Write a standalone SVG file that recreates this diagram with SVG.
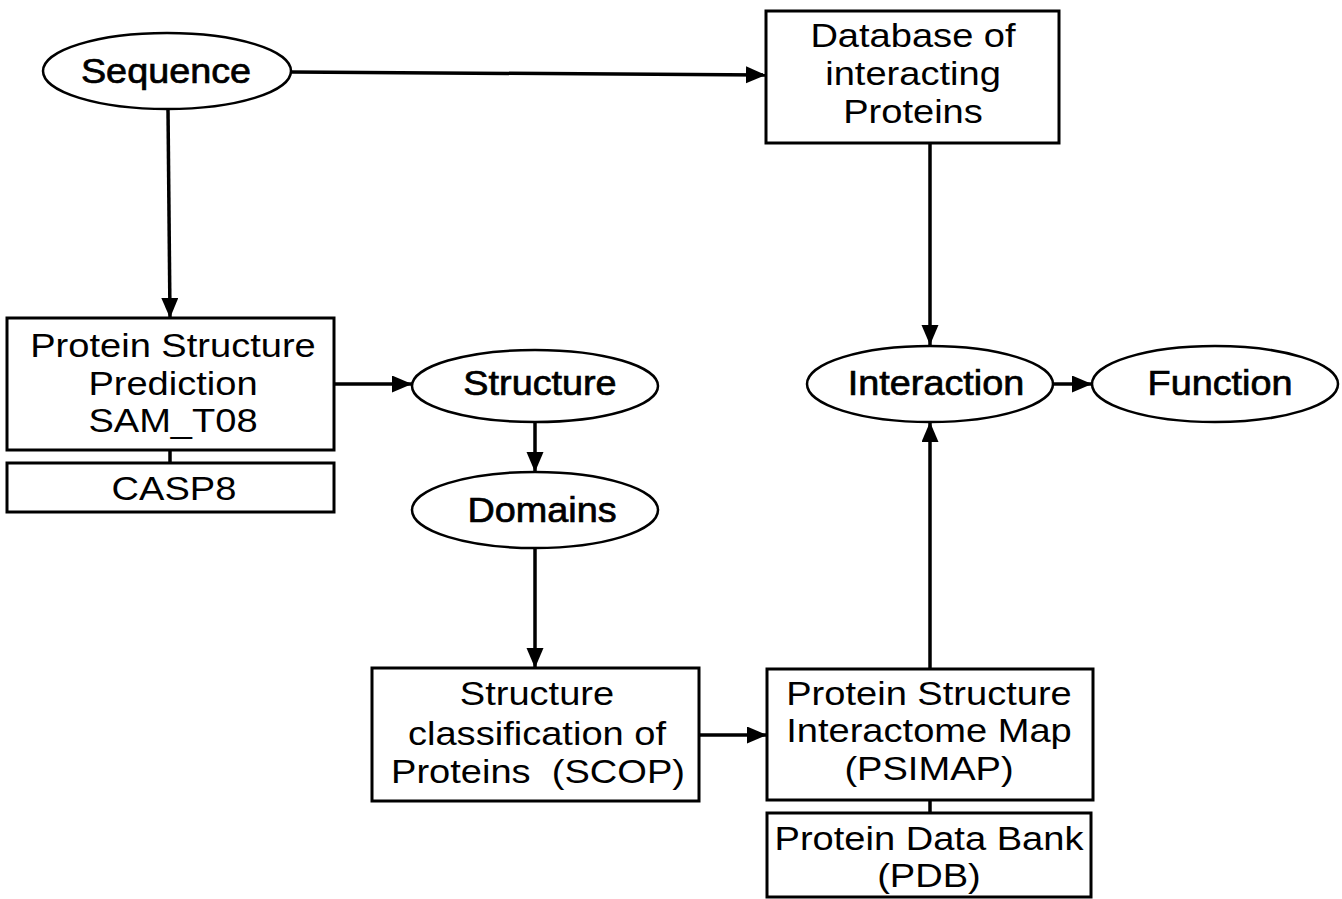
<svg xmlns="http://www.w3.org/2000/svg" width="1342" height="899" viewBox="0 0 1342 899">
<style>
.box{fill:#fff;stroke:#000;stroke-width:3}
.ell{fill:#fff;stroke:#000;stroke-width:2.5}
.t{font-family:"Liberation Sans",Arial,sans-serif;font-size:34px;fill:#000;text-anchor:middle;white-space:pre}
.et{font-family:"Liberation Sans",Arial,sans-serif;font-size:35px;fill:#000;stroke:#000;stroke-width:0.7;text-anchor:middle}
.c{stroke:#000;stroke-width:3.5;fill:none}
</style>
<defs>
<marker id="ah" markerUnits="userSpaceOnUse" markerWidth="22" markerHeight="18" refX="20" refY="8.5" orient="auto">
<path d="M0,0 L20,8.5 L0,17 Z" fill="#000"/>
</marker>
</defs>
<rect width="1342" height="899" fill="#fff"/>
<g id="connectors">
<path class="c" d="M291,72 L766,75" marker-end="url(#ah)"/>
<path class="c" d="M168,109 L170,318" marker-end="url(#ah)"/>
<path class="c" d="M334,384 L412,384" stroke-width="5" marker-end="url(#ah)"/>
<path class="c" d="M535,422 L535,472" marker-end="url(#ah)"/>
<path class="c" d="M535,548 L535,668" marker-end="url(#ah)"/>
<path class="c" d="M699,735 L767,735" marker-end="url(#ah)"/>
<path class="c" d="M930,669 L930,422" marker-end="url(#ah)"/>
<path class="c" d="M930,143 L930,345" marker-end="url(#ah)"/>
<path class="c" d="M1052,384 L1092,384" marker-end="url(#ah)"/>
<path class="c" d="M170,450 L170,463"/>
<path class="c" d="M930,800 L930,813"/>
</g>
<g id="sequence">
<ellipse class="ell" cx="167" cy="71" rx="124" ry="38"/>
<text class="et" transform="translate(166,83) scale(1.08,1)">Sequence</text>
</g>
<g id="database">
<rect class="box" x="766" y="11" width="293" height="132"/>
<text class="t" transform="translate(913,47) scale(1.12,1)">Database of</text>
<text class="t" transform="translate(913,85) scale(1.12,1)">interacting</text>
<text class="t" transform="translate(913,123) scale(1.12,1)">Proteins</text>
</g>
<g id="psp">
<rect class="box" x="7" y="318" width="327" height="132"/>
<text class="t" transform="translate(173,357) scale(1.12,1)">Protein Structure</text>
<text class="t" transform="translate(173,395) scale(1.12,1)">Prediction</text>
<text class="t" transform="translate(173,432) scale(1.12,1)">SAM_T08</text>
</g>
<g id="casp8">
<rect class="box" x="7" y="463" width="327" height="49"/>
<text class="t" transform="translate(174,500) scale(1.12,1)">CASP8</text>
</g>
<g id="structure">
<ellipse class="ell" cx="535" cy="386" rx="123" ry="36"/>
<text class="et" transform="translate(540,395) scale(1.08,1)">Structure</text>
</g>
<g id="domains">
<ellipse class="ell" cx="535" cy="510" rx="123" ry="38"/>
<text class="et" transform="translate(542,522) scale(1.08,1)">Domains</text>
</g>
<g id="scop">
<rect class="box" x="372" y="668" width="327" height="133"/>
<text class="t" transform="translate(537,705) scale(1.12,1)">Structure</text>
<text class="t" transform="translate(537,745) scale(1.12,1)">classification of</text>
<text class="t" transform="translate(538,783) scale(1.12,1)" xml:space="preserve">Proteins  (SCOP)</text>
</g>
<g id="psimap">
<rect class="box" x="767" y="669" width="326" height="131"/>
<text class="t" transform="translate(929,705) scale(1.12,1)">Protein Structure</text>
<text class="t" transform="translate(929,742) scale(1.12,1)">Interactome Map</text>
<text class="t" transform="translate(929,780) scale(1.12,1)">(PSIMAP)</text>
</g>
<g id="pdb">
<rect class="box" x="767" y="813" width="324" height="84"/>
<text class="t" transform="translate(929,850) scale(1.12,1)">Protein Data Bank</text>
<text class="t" transform="translate(929,887) scale(1.12,1)">(PDB)</text>
</g>
<g id="interaction">
<ellipse class="ell" cx="930" cy="384" rx="123" ry="38"/>
<text class="et" transform="translate(936,395) scale(1.08,1)">Interaction</text>
</g>
<g id="function">
<ellipse class="ell" cx="1215" cy="384" rx="123" ry="38"/>
<text class="et" transform="translate(1220,395) scale(1.08,1)">Function</text>
</g>
</svg>
